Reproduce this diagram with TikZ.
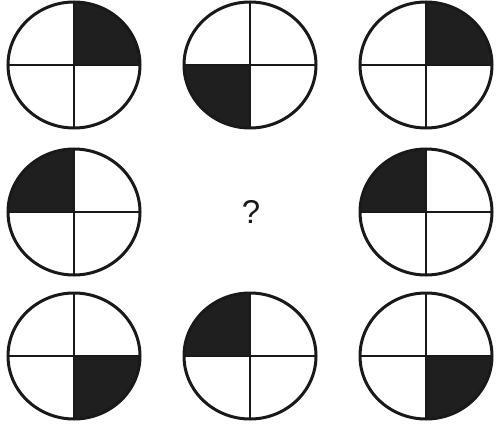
\documentclass[tikz,border=0pt]{standalone}
\usepackage{fontspec}
\setmainfont{Liberation Sans}
\begin{document}
\begin{tikzpicture}[x=1pt,y=-1pt,
  ring/.style={line width=3pt,draw=black!90},
  cross/.style={line width=2.6pt,draw=black!90},
  blackq/.style={fill=black!88}]
\useasboundingbox (0,0) rectangle (496,428);
\fill[white] (0,0) rectangle (496,428);
% x centre, y centre, filled quadrant (1 TR, 2 TL, 3 BL, 4 BR)
\foreach \cx/\cy/\q [count=\i] in {74/65/1, 250/65/3, 426/65/1,
                                   74/212/2, 426/212/2,
                                   74/356/4, 250/356/2, 426/356/4}{
  \coordinate (c\i) at (\cx,\cy);
  \begin{scope}
    \clip (c\i) ellipse [x radius=66, y radius=63];
    \ifcase\q\or
      \fill[blackq] (c\i) rectangle ++(70,-70);
    \or
      \fill[blackq] (c\i) rectangle ++(-70,-70);
    \or
      \fill[blackq] (c\i) rectangle ++(-70,70);
    \or
      \fill[blackq] (c\i) rectangle ++(70,70);
    \fi
    \draw[cross] ([xshift=-70]c\i) -- ([xshift=70]c\i);
    \draw[cross] ([yshift=-70]c\i) -- ([yshift=70]c\i);
  \end{scope}
  \draw[ring] (c\i) ellipse [x radius=66, y radius=63];
}
\node[font=\fontsize{33}{36}\selectfont, text=black!90] (q) at (251,212) {?};
\end{tikzpicture}
\end{document}
